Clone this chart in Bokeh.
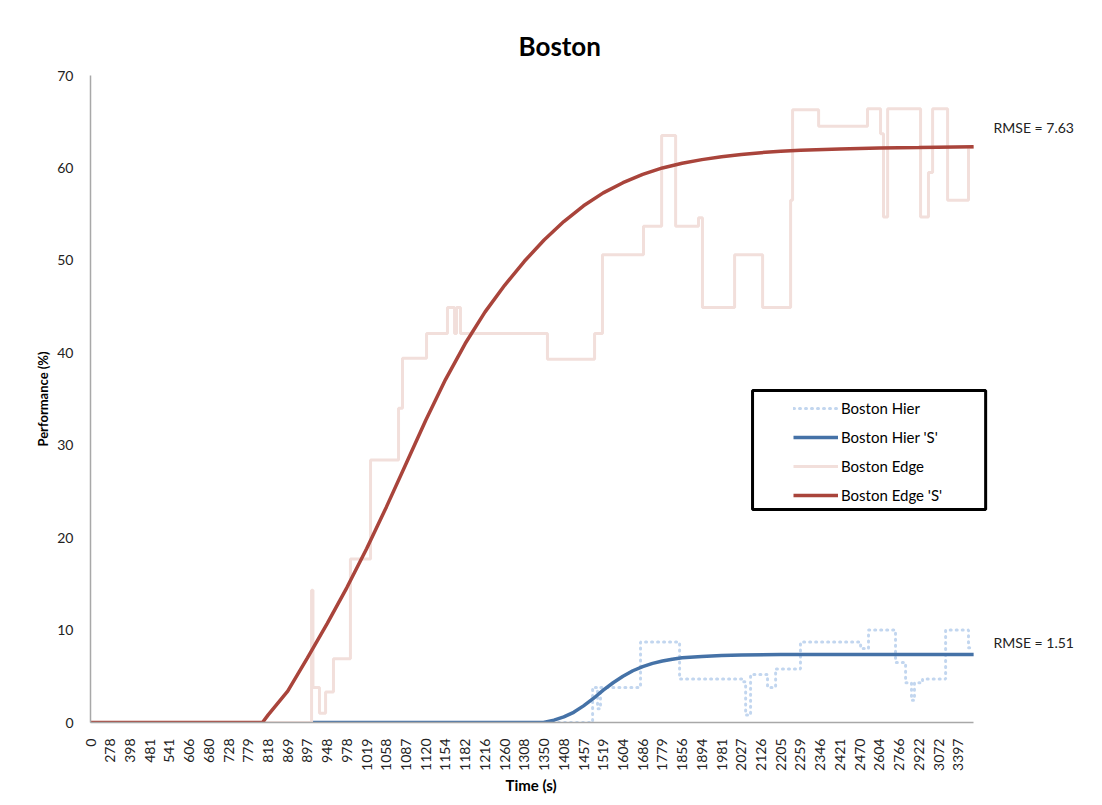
import math
from bokeh.plotting import figure
from bokeh.models import FixedTicker, Legend, LegendItem, BoxAnnotation, Label, Range1d, Title
from bokeh.embed import file_html
from bokeh.resources import INLINE

# ---- data (category-index positions along the time axis) ----
x_labels = ["0", "278", "398", "481", "541", "606", "680", "728", "779", "818", "869",
            "897", "948", "978", "1019", "1058", "1087", "1120", "1154", "1182", "1216",
            "1260", "1308", "1350", "1408", "1457", "1519", "1604", "1686", "1779", "1856",
            "1894", "1981", "2027", "2126", "2205", "2259", "2346", "2421", "2470", "2604",
            "2766", "2922", "3072", "3397"]
x_end = 44.78

edge_pos = [0, 11.21, 11.28, 11.61, 11.92, 12.32, 13.18, 14.20, 15.62, 15.82, 17.04,
            18.10, 18.46, 18.56, 18.76, 23.17, 25.56, 25.96, 28.04, 28.96, 29.67, 30.83,
            31.03, 32.66, 34.08, 35.50, 35.60, 36.92, 39.40, 40.06, 40.21, 40.42, 42.09,
            42.49, 42.70, 43.46, 44.52, 44.78]
edge_val = [0, 14.3, 3.8, 1.0, 3.3, 6.9, 17.7, 28.4, 34.0, 39.4, 42.1,
            44.9, 42.1, 44.9, 42.1, 39.3, 42.1, 50.6, 53.7, 63.5, 53.7, 54.6,
            44.9, 50.6, 44.9, 56.5, 66.3, 64.5, 66.4, 63.7, 54.7, 66.4, 54.7,
            59.5, 66.4, 56.5, 62.2, 62.2]

hier_pos = [0, 25.46, 25.71, 25.86, 27.89, 29.87, 33.11, 33.22, 33.47, 34.33, 34.74,
            36.00, 39.05, 39.45, 40.82, 41.33, 41.63, 41.78, 42.19, 43.36, 44.52, 44.78]
hier_val = [0, 3.8, 1.5, 3.8, 8.7, 4.7, 4.4, 0.8, 5.2, 3.8, 5.8,
            8.7, 8.0, 10.0, 6.5, 4.3, 2.4, 4.3, 4.7, 10.0, 8.1, 8.1]

edge_s_pos = [0, 8.72, 9, 10, 11, 12, 13, 14, 15, 16, 17, 18, 19, 20, 21, 22, 23, 24, 25,
              26, 27, 28, 29, 30, 31, 32, 33, 34, 35, 36, 38, 40, 42, 44.78]
edge_s_val = [0, 0, 0.8, 3.4, 7.0, 10.7, 14.6, 18.8, 23.3, 28.0, 32.7, 37.1, 41.0, 44.4,
              47.3, 49.9, 52.2, 54.2, 55.9, 57.3, 58.4, 59.3, 60.0, 60.5, 60.9, 61.2,
              61.45, 61.65, 61.8, 61.9, 62.05, 62.15, 62.2, 62.3]

hier_s_pos = [11.26, 22.97, 23.5, 24, 24.5, 25, 25.5, 26, 26.5, 27, 27.5, 28, 28.5, 29,
              29.5, 30, 31, 32, 33, 35, 44.78]
hier_s_val = [0, 0, 0.25, 0.6, 1.1, 1.8, 2.6, 3.5, 4.3, 5.0, 5.6, 6.05, 6.4, 6.65,
              6.85, 7.0, 7.15, 7.25, 7.3, 7.35, 7.36]

rmse_edge = "RMSE = 7.63"
rmse_hier = "RMSE = 1.51"

FONT = "Lato"

p = figure(width=1102, height=805, output_backend="svg", toolbar_location=None,
           x_range=Range1d(0, 50.96), y_range=Range1d(0, 70),
           min_border_left=90, min_border_right=7, min_border_top=75, min_border_bottom=83)
p.outline_line_color = None
p.xgrid.visible = False
p.ygrid.visible = False

p.title.text = "Boston"
p.title.text_font = FONT
p.title.text_font_size = "26px"
p.title.text_font_style = "bold"
p.title.align = "left"
p.title.offset = 428
p.title.standoff = 27
p.title.text_color = "black"

r_hier = p.step(hier_pos, hier_val, mode="after", line_color="#c2d6ef", line_width=3,
                line_dash="1 5", line_cap="round")
r_hier_s = p.line(hier_s_pos, hier_s_val, line_color="#4572a7", line_width=3.5)
r_edge = p.step(edge_pos, edge_val, mode="after", line_color="#f2dfdb", line_width=3)
r_edge_s = p.line(edge_s_pos, edge_s_val, line_color="#a9443b", line_width=3.5)

# axes
for ax in (p.xaxis[0], p.yaxis[0]):
    ax.axis_line_color = "#a8a8a8"
    ax.axis_line_width = 1.5
    ax.major_tick_line_color = None
    ax.minor_tick_line_color = None
    ax.major_label_text_font = FONT
    ax.major_label_text_color = "#222222"
    ax.axis_label_text_font = FONT
    ax.axis_label_text_font_style = "bold"
    ax.axis_label_text_color = "black"

p.xaxis.bounds = (0, x_end)
p.xaxis.ticker = FixedTicker(ticks=list(range(len(x_labels))))
p.xaxis.major_label_overrides = {i: lab for i, lab in enumerate(x_labels)}
p.xaxis.major_label_orientation = math.pi / 2
p.xaxis.major_label_text_font_size = "14px"
p.xaxis.major_label_standoff = 10

p.add_layout(Title(text="Time (s)", align="left", offset=415, text_font=FONT,
                   text_font_size="15px", text_font_style="bold", text_color="black",
                   standoff=0), "below")

p.yaxis.ticker = FixedTicker(ticks=list(range(0, 71, 10)))
p.yaxis.major_label_text_font_size = "14px"
p.yaxis.major_label_standoff = 11
p.yaxis.axis_label = "Performance (%)"
p.yaxis.axis_label_text_font_size = "13px"
p.yaxis.axis_label_standoff = 3

legend = Legend(items=[LegendItem(label="Boston Hier", renderers=[r_hier]),
                       LegendItem(label="Boston Hier 'S'", renderers=[r_hier_s]),
                       LegendItem(label="Boston Edge", renderers=[r_edge]),
                       LegendItem(label="Boston Edge 'S'", renderers=[r_edge_s])],
                location=(703, 217), border_line_color=None, background_fill_alpha=0,
                padding=10, spacing=9, glyph_width=45, glyph_height=20, label_height=20,
                label_standoff=3, label_text_font=FONT, label_text_font_size="15px",
                label_text_color="black")
p.add_layout(legend)

p.add_layout(BoxAnnotation(left=33.57, right=45.39, top=35.92, bottom=23.04,
                           fill_alpha=0, line_color="black", line_alpha=1.0, line_width=3))

p.add_layout(Label(x=45.79, y=64.4, text=rmse_edge, text_font=FONT, text_font_size="14px",
                   text_baseline="middle", text_color="#222222"))
p.add_layout(Label(x=45.79, y=8.66, text=rmse_hier, text_font=FONT, text_font_size="14px",
                   text_baseline="middle", text_color="#222222"))

open("out.html", "w").write(file_html(p, INLINE))
